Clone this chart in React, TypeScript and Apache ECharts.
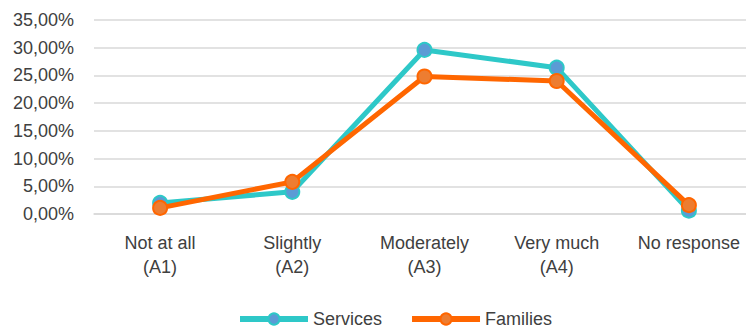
import React, { useEffect, useRef } from "react";
import * as echarts from "echarts";

const categories = [
  "Not at all\n(A1)",
  "Slightly\n(A2)",
  "Moderately\n(A3)",
  "Very much\n(A4)",
  "No response",
];
const servicesValues = [2.0, 4.0, 29.6, 26.4, 0.6];
const familiesValues = [1.1, 5.8, 24.8, 24.0, 1.6];

const TEXT_COLOR = "#404040";
const FONT = "'Liberation Sans', Arial, sans-serif";

// category index -> [x, y] pairs on a numeric x axis (each category is one unit wide)
const toPoints = (values: number[]) => values.map((v, i) => [i, v]);

export default function App() {
  const ref = useRef<HTMLDivElement>(null);

  useEffect(() => {
    if (!ref.current) return;
    const chart = echarts.init(ref.current, undefined, { renderer: "svg" });
    chart.setOption({
      animation: false,
      textStyle: { fontFamily: FONT, color: TEXT_COLOR },
      grid: { left: 94, top: 20, right: 0, bottom: 117, containLabel: false },
      xAxis: {
        type: "value",
        min: -0.5,
        max: 4.432,
        interval: 0.5,
        splitLine: { show: false },
        axisTick: { show: false },
        axisLine: { show: true, lineStyle: { color: "#D9D9D9", width: 1.5 } },
        axisLabel: {
          color: TEXT_COLOR,
          fontFamily: FONT,
          fontSize: 18,
          lineHeight: 24,
          margin: 17,
          showMinLabel: false,
          showMaxLabel: false,
          formatter: (v: number) => {
            const i = Math.round(v);
            return Math.abs(v - i) < 1e-6 && categories[i] ? categories[i] : "";
          },
        },
      },
      yAxis: {
        type: "value",
        min: 0,
        max: 35,
        interval: 5,
        axisLine: { show: false },
        axisTick: { show: false },
        splitLine: { lineStyle: { color: "#D9D9D9", width: 1.5 } },
        axisLabel: {
          color: TEXT_COLOR,
          fontFamily: FONT,
          fontSize: 18,
          margin: 20,
          formatter: (v: number) => v.toFixed(2).replace(".", ",") + "%",
        },
      },
      legend: {
        left: 237,
        top: 310,
        padding: 0,
        itemWidth: 68,
        itemHeight: 14,
        itemGap: 27,
        lineStyle: { width: 6 },
        textStyle: { color: TEXT_COLOR, fontFamily: FONT, fontSize: 18 },
        data: ["Services", "Families"],
      },
      series: [
        {
          name: "Services",
          type: "line",
          data: toPoints(servicesValues),
          symbol: "circle",
          symbolSize: 14,
          z: 2,
          lineStyle: { color: "#2EC8C8", width: 5 },
          itemStyle: { color: "#5B9BD5", borderColor: "#2EC8C8", borderWidth: 2 },
        },
        {
          name: "Families",
          type: "line",
          data: toPoints(familiesValues),
          symbol: "circle",
          symbolSize: 14,
          z: 3,
          lineStyle: { color: "#FF6600", width: 5 },
          itemStyle: { color: "#ED7D31", borderColor: "#FF6600", borderWidth: 2 },
        },
      ],
    });
    return () => chart.dispose();
  }, []);

  return <div ref={ref} style={{ width: 746, height: 331, position: "absolute", left: 0, top: 0 }} />;
}
